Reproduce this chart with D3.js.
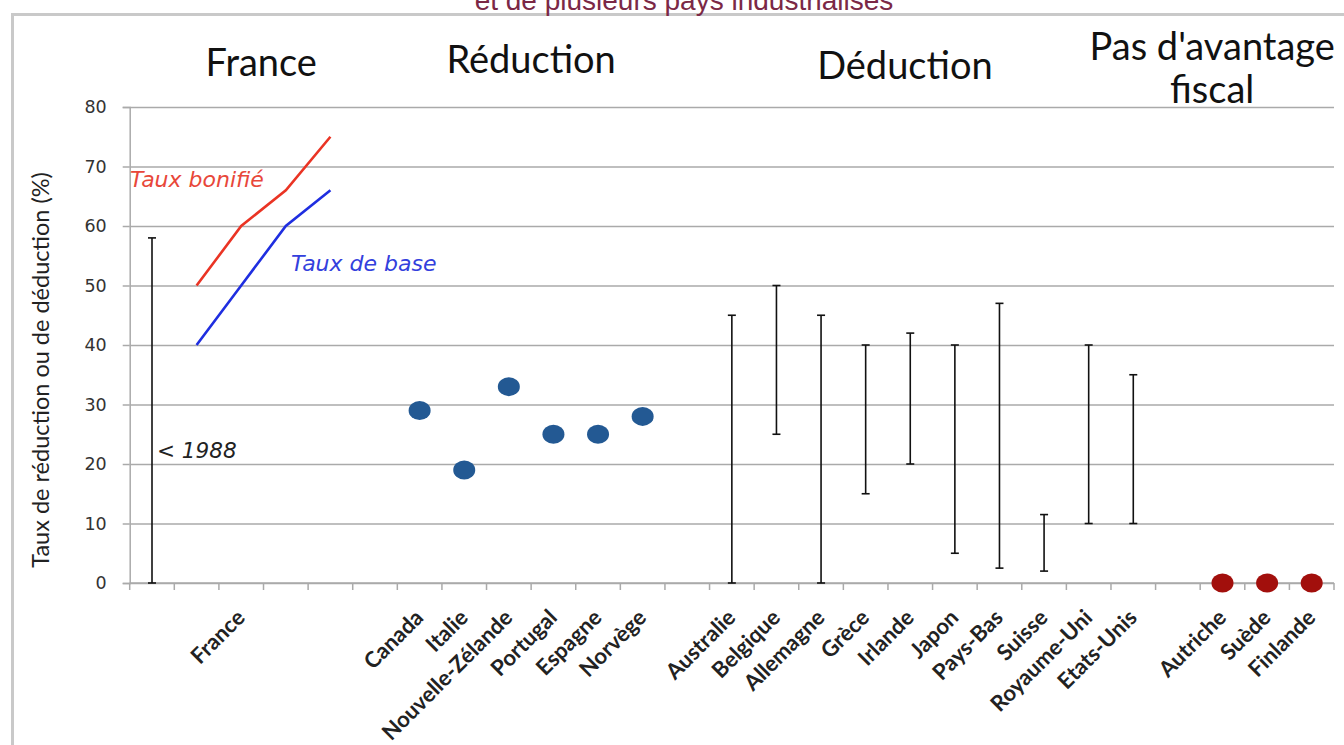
<!DOCTYPE html>
<html>
<head>
<meta charset="utf-8">
<script src="https://cdn.jsdelivr.net/npm/d3@7"></script>
<style>
  html, body { margin: 0; padding: 0; background: #fff; overflow: hidden; }
  svg { display: block; }
</style>
</head>
<body>
<svg id="chart"></svg>
<script>
// x slots (one per band) and the label shown under each
const slots = ['pre1988', 'F1', 'France', 'F3', 'F4', 'gapR',
    'Canada', 'Italie', 'Nouvelle-Zélande', 'Portugal', 'Espagne', 'Norvège', 'gapD',
    'Australie', 'Belgique', 'Allemagne', 'Grèce', 'Irlande', 'Japon', 'Pays-Bas', 'Suisse', 'Royaume-Uni', 'Etats-Unis', 'gapP',
    'Autriche', 'Suède', 'Finlande'];
const tickLabels = ['', '', 'France', '', '', '',
    'Canada', 'Italie', 'Nouvelle-Zélande', 'Portugal', 'Espagne', 'Norvège', '',
    'Australie', 'Belgique', 'Allemagne', 'Grèce', 'Irlande', 'Japon', 'Pays-Bas', 'Suisse', 'Royaume-Uni', 'Etats-Unis', '',
    'Autriche', 'Suède', 'Finlande'];
const yTicks = [0, 10, 20, 30, 40, 50, 60, 70, 80];

// France
const franceSlots = ['F1', 'France', 'F3', 'F4'];
const tauxBonifie = [50, 60, 66, 75];
const tauxBase = [40, 50, 60, 66];
const pre1988 = [0, 58];

// Réduction
const reductionCountries = ['Canada', 'Italie', 'Nouvelle-Zélande', 'Portugal', 'Espagne', 'Norvège'];
const reductionRates = [29, 19, 33, 25, 25, 28];

// Déduction (min / max)
const deductionCountries = ['Australie', 'Belgique', 'Allemagne', 'Grèce', 'Irlande', 'Japon', 'Pays-Bas', 'Suisse', 'Royaume-Uni', 'Etats-Unis'];
const deductionLow = [0, 25, 0, 15, 20, 5, 2.5, 2, 10, 10];
const deductionHigh = [45, 50, 45, 40, 42, 40, 47, 11.5, 40, 35];

// Pas d'avantage fiscal
const noneCountries = ['Autriche', 'Suède', 'Finlande'];
const noneRates = [0, 0, 0];

const groupHeaders = [
    { lines: ['France'], slot: 'France', dx: 0.45, y: 76 },
    { lines: ['Réduction'], slot: 'Nouvelle-Zélande', dx: 0.5, y: 73 },
    { lines: ['Déduction'], slot: 'Japon', dx: -1.12, y: 79 },
    { lines: ["Pas d'avantage", 'fiscal'], slot: 'Suède', dx: -1.23, y: 60 }
];

const W = 1344, H = 745;
const svg = d3.select('#chart').attr('width', W).attr('height', H);

const x = d3.scaleBand().domain(slots).range([129.7, 1334]).padding(0);
const cx = s => x(s) + x.bandwidth() / 2;
const y = d3.scaleLinear().domain([0, 80]).range([583, 107]);

// frame of the pasted picture
svg.append('path')
    .attr('d', `M12.5,${H} V14.5 H${W}`)
    .attr('fill', 'none').attr('stroke', '#c9c9c9').attr('stroke-width', 3);

// title remnant at the very top
svg.append('text')
    .attr('x', 684).attr('y', 10)
    .attr('text-anchor', 'middle')
    .attr('font-family', '"Liberation Sans", Arial, sans-serif')
    .attr('font-size', 28).attr('fill', '#7b2846')
    .text('et de plusieurs pays industrialisés');

// grid
const grid = svg.append('g').attr('transform', `translate(${x.range()[0]},0)`)
    .call(d3.axisLeft(y).tickValues(yTicks).tickSize(-(1334 - 129.7)).tickFormat(''));
grid.select('.domain').remove();
grid.selectAll('line').attr('stroke', '#aaaaaa').attr('stroke-width', 1.5);

// y axis
const yAxis = svg.append('g').attr('transform', `translate(${x.range()[0]},0)`)
    .call(d3.axisLeft(y).tickValues(yTicks).tickSize(7).tickPadding(16));
yAxis.select('.domain').attr('stroke', '#aaaaaa').attr('stroke-width', 1.5);
yAxis.selectAll('line').attr('stroke', '#aaaaaa').attr('stroke-width', 1.5);
yAxis.selectAll('text')
    .attr('font-family', '"DejaVu Sans", Verdana, sans-serif')
    .attr('font-size', 17.5).attr('fill', '#333');

svg.append('text')
    .attr('transform', `translate(49,370) rotate(-90)`)
    .attr('text-anchor', 'middle')
    .attr('font-family', 'Lato, sans-serif')
    .attr('font-size', 23.5).attr('fill', '#222')
    .text('Taux de réduction ou de déduction (%)');

// x axis: baseline and ticks at band edges
svg.append('line')
    .attr('x1', x.range()[0]).attr('x2', x.range()[1])
    .attr('y1', y(0)).attr('y2', y(0))
    .attr('stroke', '#aaaaaa').attr('stroke-width', 1.5);
svg.append('g').selectAll('line')
    .data(slots.map(s => x(s)).concat([x.range()[1]]))
    .join('line')
    .attr('x1', d => d).attr('x2', d => d)
    .attr('y1', y(0)).attr('y2', y(0) + 7)
    .attr('stroke', '#aaaaaa').attr('stroke-width', 1.5);

svg.append('g').selectAll('text')
    .data(slots.filter((s, i) => tickLabels[i]))
    .join('text')
    .attr('transform', s => `translate(${cx(s) + 5},619) rotate(-45)`)
    .attr('text-anchor', 'end')
    .attr('font-family', 'Lato, sans-serif')
    .attr('font-weight', 700)
    .attr('font-size', 22).attr('fill', '#222')
    .text(s => tickLabels[slots.indexOf(s)]);

// group headers
groupHeaders.forEach(g => {
    const t = svg.append('text')
        .attr('x', cx(g.slot) + g.dx * x.bandwidth())
        .attr('y', g.y)
        .attr('text-anchor', 'middle')
        .attr('font-family', 'Lato, sans-serif')
        .attr('font-size', 38).attr('fill', '#111');
    g.lines.forEach((l, i) => {
        t.append('tspan').attr('x', cx(g.slot) + g.dx * x.bandwidth())
            .attr('dy', i ? 43 : 0).text(l);
    });
});

// error bar helper
function rangeBar(slot, lo, hi) {
    const g = svg.append('g').attr('stroke', '#111').attr('stroke-width', 1.6);
    g.append('line').attr('x1', cx(slot)).attr('x2', cx(slot)).attr('y1', y(lo)).attr('y2', y(hi));
    [lo, hi].forEach(v => g.append('line')
        .attr('x1', cx(slot) - 4).attr('x2', cx(slot) + 4)
        .attr('y1', y(v)).attr('y2', y(v)));
}

// France
rangeBar('pre1988', pre1988[0], pre1988[1]);
const line = d3.line().x(d => cx(d.s)).y(d => y(d.v));
svg.append('path')
    .datum(franceSlots.map((s, i) => ({ s, v: tauxBonifie[i] })))
    .attr('fill', 'none').attr('stroke', '#ea3424').attr('stroke-width', 2.6)
    .attr('d', line);
svg.append('path')
    .datum(franceSlots.map((s, i) => ({ s, v: tauxBase[i] })))
    .attr('fill', 'none').attr('stroke', '#1f2ee0').attr('stroke-width', 2.6)
    .attr('d', line);

const note = (txt, xx, yy, color, size) => svg.append('text')
    .attr('x', xx).attr('y', yy)
    .attr('font-family', '"DejaVu Sans", Verdana, sans-serif')
    .attr('font-style', 'italic').attr('font-size', size).attr('fill', color)
    .text(txt);
note('Taux bonifié', 130, 187, '#e8473a', 22);
note('Taux de base', 291, 271, '#3340dd', 22);
note('< 1988', 157, 458, '#222', 21.5);

// Réduction
svg.append('g').selectAll('ellipse')
    .data(reductionCountries)
    .join('ellipse')
    .attr('cx', d => cx(d))
    .attr('cy', (d, i) => y(reductionRates[i]))
    .attr('rx', 11).attr('ry', 9.5)
    .attr('fill', '#235993');

// Déduction
deductionCountries.forEach((c, i) => rangeBar(c, deductionLow[i], deductionHigh[i]));

// Pas d'avantage fiscal
svg.append('g').selectAll('ellipse')
    .data(noneCountries)
    .join('ellipse')
    .attr('cx', d => cx(d))
    .attr('cy', (d, i) => y(noneRates[i]))
    .attr('rx', 11).attr('ry', 9.5)
    .attr('fill', '#a20f0c');
</script>
</body>
</html>
